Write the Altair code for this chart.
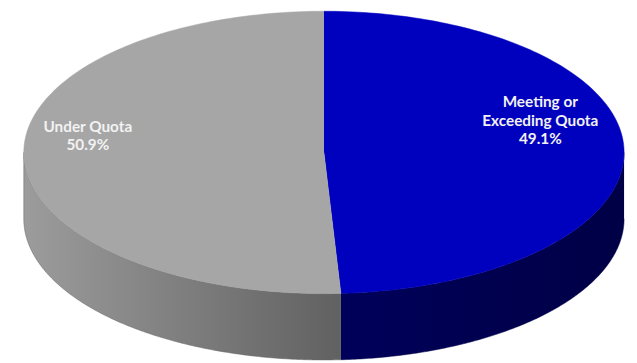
import altair as alt
import pandas as pd

# ---- data ----
categories = ["Meeting or Exceeding Quota", "Under Quota"]
shares = [49.1, 50.9]
name_lines = [["Meeting or", "Exceeding Quota"], ["Under Quota"]]

# ---- styles ----
top_colors = ["#0000bf", "#a6a6a6"]
wall_stops = [["#00005a", "#000046"], ["#9c9c9c", "#616161"]]
label_dy = [-48, -29]

N = 160          # samples along each arc
DEPTH = 0.47     # wall depth, in units of the vertical radius

rows = []
for i, (c, v) in enumerate(zip(categories, shares)):
    for k in range(-1, 2 * N + 2):
        rows.append({"category": c, "share": v, "slice": i, "k": k})
geo = pd.DataFrame(rows)

labels = pd.DataFrame({
    "category": categories,
    "share": shares,
    "slice": list(range(len(categories))),
    "lines": [nl + [f"{v}%"] for nl, v in zip(name_lines, shares)],
})

xscale = alt.Scale(domain=[-1.0526, 1.0164], nice=False, zero=False)
yscale = alt.Scale(domain=[-1.4755, 1.007], nice=False, zero=False)

base = (
    alt.Chart(geo)
    .transform_joinaggregate(total="sum(share)", groupby=["k"])
    .transform_window(cum="sum(share)", groupby=["k"],
                      sort=[alt.SortField("slice")], frame=[None, 0])
    .transform_calculate(
        a0="2*PI*(datum.cum - datum.share)/datum.total",
        a1="2*PI*datum.cum/datum.total",
    )
)

enc = dict(
    x=alt.X("px:Q", scale=xscale, axis=None),
    y=alt.Y("py:Q", scale=yscale, axis=None),
    order=alt.Order("k:Q"),
    detail="category:N",
)

walls = (
    base.transform_filter("datum.k >= 0")
    .transform_calculate(w0="max(datum.a0, PI/2)", w1="min(datum.a1, 3*PI/2)")
    .transform_filter("datum.w1 > datum.w0")
    .transform_calculate(
        t=f"datum.k <= {N} ? datum.k/{N} : ({2*N+1} - datum.k)/{N}")
    .transform_calculate(ang="datum.w0 + (datum.w1 - datum.w0)*datum.t")
    .transform_calculate(
        px="sin(datum.ang)",
        py=f"cos(datum.ang) - (datum.k > {N} ? {DEPTH} : 0)",
    )
)

tops = (
    base.transform_filter(f"datum.k <= {N}")
    .transform_calculate(ang=f"datum.a0 + (datum.a1 - datum.a0)*datum.k/{N}")
    .transform_calculate(
        px="datum.k < 0 ? 0 : sin(datum.ang)",
        py="datum.k < 0 ? 0 : cos(datum.ang)",
    )
)

layers = []
for i in range(len(categories)):
    grad = alt.LinearGradient(
        gradient="linear",
        stops=[alt.GradientStop(color=wall_stops[i][0], offset=0),
               alt.GradientStop(color=wall_stops[i][1], offset=1)],
        x1=0, x2=1, y1=0, y2=0,
    )
    layers.append(
        walls.transform_filter(f"datum.slice == {i}")
        .mark_line(fill=grad, stroke=wall_stops[i][1], strokeWidth=0.5,
                   interpolate="linear")
        .encode(**enc)
    )
for i in range(len(categories)):
    layers.append(
        tops.transform_filter(f"datum.slice == {i}")
        .mark_line(fill=top_colors[i], stroke=top_colors[i], strokeWidth=0.5)
        .encode(**enc)
    )

text_base = (
    alt.Chart(labels)
    .transform_joinaggregate(total="sum(share)")
    .transform_window(cum="sum(share)", sort=[alt.SortField("slice")],
                      frame=[None, 0])
    .transform_calculate(mid="2*PI*(datum.cum - datum.share/2)/datum.total")
    .transform_calculate(lx="0.754*sin(datum.mid)", ly="0.754*cos(datum.mid)")
)
for i in range(len(categories)):
    layers.append(
        text_base.transform_filter(f"datum.slice == {i}")
        .mark_text(font="Lato", fontWeight="bold", fontSize=15.5,
                   color="#f2f2f2", align="center", baseline="middle",
                   lineHeight=19, dx=-10, dy=label_dy[i])
        .encode(
            x=alt.X("lx:Q", scale=xscale, axis=None),
            y=alt.Y("ly:Q", scale=yscale, axis=None),
            text=alt.Text("lines"),
        )
    )

chart = (
    alt.layer(*layers)
    .properties(width=629, height=355, padding=0, autosize="none",
                background="white")
    .configure_view(stroke=None)
)

chart.save("out.html", embed_options={"renderer": "svg", "actions": False})
